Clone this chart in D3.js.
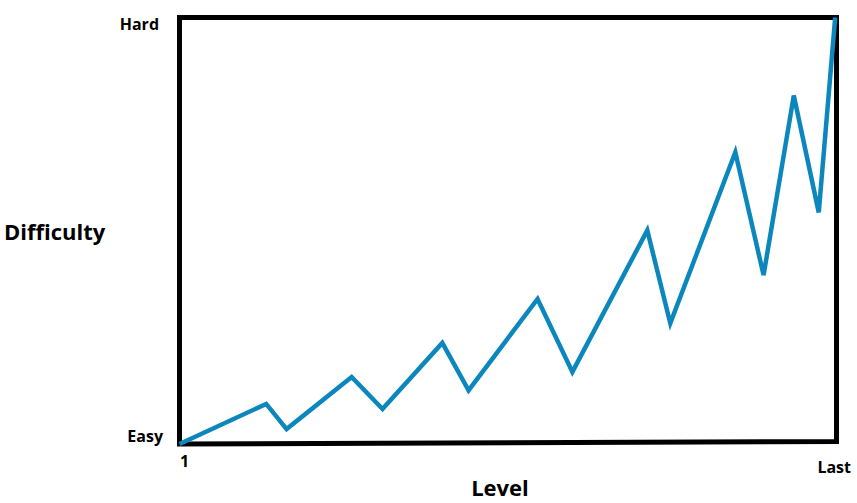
<!DOCTYPE html>
<html><head><meta charset="utf-8">
<script src="https://cdn.jsdelivr.net/npm/d3@7"></script>
<style>body{margin:0;background:#fff}svg{display:block}text{font-family:"Open Sans",sans-serif;font-weight:700;fill:#000}</style>
</head><body><svg id="c" width="857" height="503"></svg>
<script>
const levels = [0, 13.2, 16.3, 26.2, 30.9, 40.0, 44.0, 54.5, 59.8, 71.2, 74.7, 84.6, 88.9, 93.5, 97.3, 99.8];
const difficulty = [0, 9.4, 3.5, 15.7, 8.2, 23.7, 12.6, 34.0, 16.9, 50.1, 28.3, 68.4, 39.6, 81.7, 54.3, 100];
const xTickLabels = ["1", "Last"];
const yTickLabels = ["Easy", "Hard"];
const xTitle = "Level";
const yTitle = "Difficulty";

const svg = d3.select("#c");
const x = d3.scaleLinear().domain([0, 100]).range([179.5, 836.5]);
const y = d3.scaleLinear().domain([0, 100]).range([444, 17.5]);

// frame
svg.append("path")
  .attr("d", `M${x(0)},${y(100)} L${x(100)},${y(100)} L${x(100)},${y(0)-2.5} L${x(0)},${y(0)} Z`)
  .attr("fill", "none").attr("stroke", "#000").attr("stroke-width", 5)
  .attr("stroke-linejoin", "miter");

// data line
const pts = levels.map((l, i) => [l, difficulty[i]]);
svg.append("path")
  .datum(pts)
  .attr("d", d3.line().x(d => x(d[0])).y(d => y(d[1])))
  .attr("fill", "none").attr("stroke", "#0c87bd").attr("stroke-width", 4.5)
  .attr("stroke-linejoin", "miter");

// y labels
svg.append("text").attr("x", 159).attr("y", 30).attr("text-anchor", "end").attr("font-size", 16).text(yTickLabels[1]);
svg.append("text").attr("x", 163).attr("y", 442).attr("text-anchor", "end").attr("font-size", 16).text(yTickLabels[0]);
// x labels
svg.append("text").attr("x", 180).attr("y", 467).attr("font-size", 16).text(xTickLabels[0]);
svg.append("text").attr("x", 851).attr("y", 473).attr("text-anchor", "end").attr("font-size", 16).text(xTickLabels[1]);
// titles
svg.append("text").attr("x", 4).attr("y", 240).attr("font-size", 22).text(yTitle);
svg.append("text").attr("x", 500).attr("y", 496).attr("text-anchor", "middle").attr("font-size", 22).text(xTitle);
</script></body></html>
